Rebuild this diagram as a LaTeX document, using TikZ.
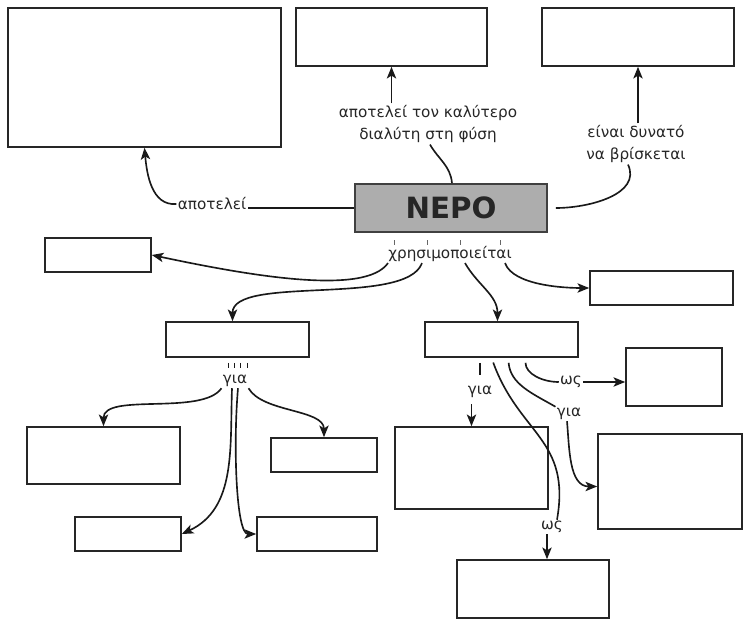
\documentclass[tikz,border=0pt]{standalone}
\usepackage{fontspec}
\setmainfont{DejaVu Sans}
\usepackage{tikz}
\usetikzlibrary{arrows.meta}
\tikzstyle{blank} = [draw=black!85, line width=1.4pt, inner sep=0pt]
\tikzstyle{water} = [draw=black!75, fill=black!32, line width=1.5pt, minimum width=5.76cm, minimum height=1.44cm, text=black!85, font={\fontsize{25}{25}\selectfont\bfseries}]
\tikzstyle{word} = [inner sep=1pt, align=center, text=black!85, font={\fontsize{13}{19.6}\selectfont}]
\tikzstyle{link} = [line width=1.4pt, black!90]
\tikzstyle{conn} = [link, -{Stealth[length=10pt,width=8pt,inset=2.5pt]}]

\begin{document}
\begin{tikzpicture}[x=0.03cm, y=-0.03cm]
    \useasboundingbox (0,0) rectangle (744,619);
    % empty boxes
    \node[blank, minimum width=8.19cm, minimum height=4.17cm](b1) at (144.5,77.5){};
    \node[blank, minimum width=5.73cm, minimum height=1.74cm](b2) at (391.5,37){};
    \node[blank, minimum width=5.76cm, minimum height=1.74cm](b3) at (638,37){};
    \node[blank, minimum width=3.18cm, minimum height=1.02cm](b5) at (98,255){};
    \node[blank, minimum width=4.29cm, minimum height=1.02cm](b6) at (661.5,288){};
    \node[blank, minimum width=4.29cm, minimum height=1.05cm](b7) at (237.5,339.5){};
    \node[blank, minimum width=4.59cm, minimum height=1.05cm](b8) at (501.5,339.5){};
    \node[blank, minimum width=2.88cm, minimum height=1.74cm](b9) at (674,377){};
    \node[blank, minimum width=4.59cm, minimum height=1.71cm](b10) at (103.5,455.5){};
    \node[blank, minimum width=3.18cm, minimum height=1.02cm](b11) at (324,455){};
    \node[blank, minimum width=4.59cm, minimum height=2.46cm](b12) at (471.5,468){};
    \node[blank, minimum width=4.32cm, minimum height=2.85cm](b13) at (670,481.5){};
    \node[blank, minimum width=3.18cm, minimum height=1.02cm](b14) at (128,534){};
    \node[blank, minimum width=3.6cm, minimum height=1.02cm](b15) at (317,534){};
    \node[blank, minimum width=4.56cm, minimum height=1.74cm](b16) at (533,589){};
    % centre
    \node[water](root) at (451,208){ΝΕΡΟ};
    % labels
    \node[word](l1) at (212,204){αποτελεί};
    \node[word](l2) at (428,124){αποτελεί τον καλύτερο\\διαλύτη στη φύση};
    \node[word](l3) at (636,144){είναι δυνατό\\να βρίσκεται};
    \node[word](l4) at (450,254){χρησιμοποιείται};
    \node[word](l5) at (235,381){για};
    \node[word](l6) at (480,392){για};
    \node[word](l7) at (571,382){ως};
    \node[word](l8) at (569,414){για};
    \node[word](l9) at (552,527){ως};
    % top
    \draw[link](root.west) -- (l1.east |- root.west);
    \draw[conn](l1.west) to[out=185,in=-85](b1.south);
    \draw[conn](b2.south |- l2.north) -- (b2.south);
    \draw[link]([xshift=0.03cm]root.north) to[out=95,in=-60]([xshift=0.06cm]l2.south);
    \draw[conn](b3.south |- l3.north) -- (b3.south);
    \draw[link]([xshift=0.24cm]root.east) to[out=0,in=-65]([xshift=-0.24cm]l3.south);
    % uses
    \foreach \dx in {-1.68,-0.69,0.3,1.5}
        \draw[link, line width=0.5pt, black!60]([xshift=\dx cm]l4.north) -- ([xshift=\dx cm, yshift=0.15cm]l4.north);
    \draw[conn]([xshift=-1.86cm]l4.south) to[out=-125,in=-12,out distance=1.2cm,in distance=3cm](b5.east);
    \draw[conn]([xshift=-0.84cm]l4.south) to[out=-110,in=90,looseness=0.6]([xshift=-0.15cm]b7.north);
    \draw[conn]([xshift=0.45cm]l4.south) to[out=-60,in=90]([xshift=-0.12cm]b8.north);
    \draw[conn]([xshift=1.65cm]l4.south) to[out=-70,in=180,looseness=0.7](b6.west);
    % for
    \foreach \dx in {-0.27,-0.09,0.09,0.3}
        \draw[link, line width=0.9pt]([xshift=\dx cm, yshift=-0.15cm]b7.south) -- ([xshift=\dx cm, yshift=-0.3cm]b7.south);
    \draw[conn](l5.south west) to[out=-125,in=90,looseness=0.7](b10.north);
    \draw[conn]([xshift=-0.09cm]l5.south) to[out=-92,in=25](b14.east);
    \draw[conn]([xshift=0.09cm]l5.south) to[out=-95,in=180,in distance=0.6cm](b15.west);
    \draw[conn](l5.south east) to[out=-60,in=90,looseness=0.8](b11.north);
    % for, as
    \draw[link, shorten <=0.15cm, shorten >=0.3cm](l6.north |- b8.south) -- (l6.north);
    \draw[conn, shorten <=0.15cm](b12.north |- l6.south) -- (b12.north);
    \draw[link, shorten <=0.15cm]([xshift=-0.3cm]b8.south) to[out=-70,in=80,looseness=1.2]([xshift=0.15cm]l9.north);
    \draw[link, shorten <=0.15cm]([xshift=0.2cm]b8.south) to[out=-85,in=150](l8.north west);
    \draw[conn]([xshift=-0.06cm]l8.south) to[out=-85,in=180]([yshift=-0.15cm]b13.west);
    \draw[link, shorten <=0.15cm]([xshift=0.72cm]b8.south) to[out=-90,in=180](l7.west);
    \draw[conn](l7.east) -- (l7.east -| b9.west);
    \draw[conn]([xshift=-0.15cm]l9.south) -- ([xshift=-0.15cm]l9.south |- b16.north);
\end{tikzpicture}
\end{document}
